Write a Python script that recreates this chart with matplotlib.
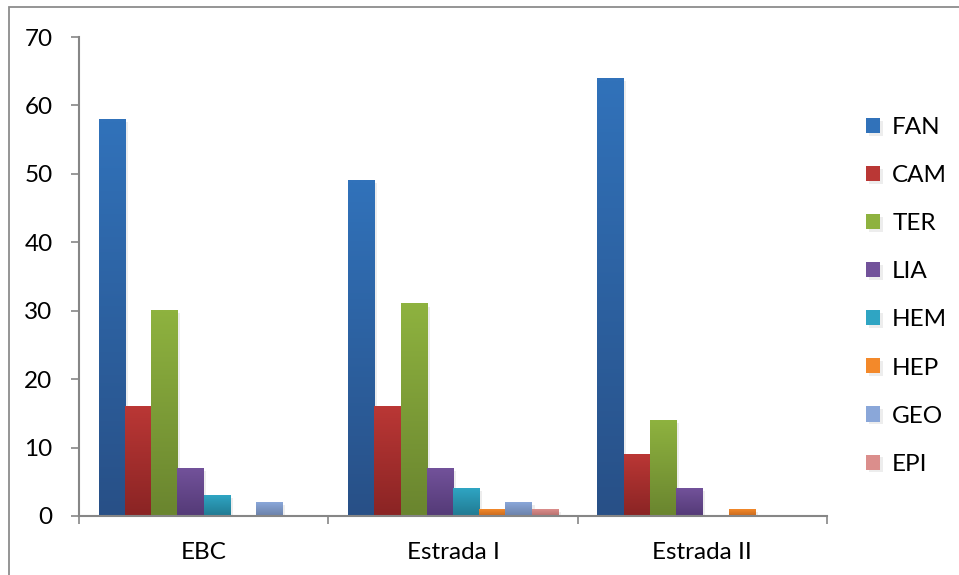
import numpy as np
import matplotlib
matplotlib.use("Agg")
import matplotlib.pyplot as plt
from matplotlib.patches import Rectangle
from matplotlib.colors import to_rgb
import matplotlib.patheffects as pe

plt.rcParams['font.family'] = ['Lato', 'DejaVu Sans']

categories = ["EBC", "Estrada I", "Estrada II"]
series = ["FAN", "CAM", "TER", "LIA", "HEM", "HEP", "GEO", "EPI"]
FAN = [58, 49, 64]
CAM = [16, 16, 9]
TER = [30, 31, 14]
LIA = [7, 7, 4]
HEM = [3, 4, 0]
HEP = [0, 1, 1]
GEO = [2, 2, 0]
EPI = [0, 1, 0]
values = [FAN, CAM, TER, LIA, HEM, HEP, GEO, EPI]

# top / bottom colours of each series' vertical gradient
top_colors = ["#3172BA", "#BA3735", "#8EB23F", "#72529A", "#2FA5C3", "#F3892A", "#8AA7D9", "#DB8E8C"]
bot_colors = ["#285087", "#8A2424", "#6A852F", "#543A77", "#217A92", "#C7691E", "#6B81A9", "#B66F6D"]

W, H = 959, 575
fig = plt.figure(figsize=(W / 100, H / 100), dpi=100)
ax = fig.add_axes([79 / W, 59 / H, (827 - 79) / W, (538 - 59) / H])

n = len(series)
gap = 1.5
bw = 1.0 / (n + gap)
x = np.arange(len(categories))

grad = np.linspace(0, 1, 64).reshape(-1, 1)
handles = []
for i, (name, vals) in enumerate(zip(series, values)):
    offs = (i - (n - 1) / 2) * bw
    bars = ax.bar(x + offs, vals, width=bw, color=top_colors[i], label=name,
                  zorder=2, linewidth=0,
                  path_effects=[pe.SimplePatchShadow(offset=(2, -2), shadow_rgbFace="#000000", alpha=0.07),
                                pe.Normal()])
    handles.append(bars)
    t = np.array(to_rgb(top_colors[i]))
    b = np.array(to_rgb(bot_colors[i]))
    img = (t[None, None, :] * (1 - grad[:, :, None]) + b[None, None, :] * grad[:, :, None])
    for p in bars.patches:
        h = p.get_height()
        if h <= 0:
            continue
        x0 = p.get_x()
        ax.imshow(img, extent=(x0, x0 + p.get_width(), 0, h), aspect='auto',
                  origin='upper', zorder=3, interpolation='bilinear')

ax.set_xlim(-0.5, len(categories) - 0.5)
ax.set_ylim(0, 70)
ax.set_yticks(range(0, 71, 10))
ax.set_xticks(x)
ax.set_xticklabels(categories)
ax.set_xticks(np.arange(len(categories) + 1) - 0.5, minor=True)

axis_grey = "#868686"
for s in ["top", "right"]:
    ax.spines[s].set_visible(False)
for s in ["left", "bottom"]:
    ax.spines[s].set_color(axis_grey)
    ax.spines[s].set_linewidth(1.5)
ax.spines["bottom"].set_zorder(4)

ax.tick_params(axis='y', direction='out', length=6, width=1.2, color=axis_grey,
               labelsize=17.5, pad=13, labelcolor="black")
ax.tick_params(axis='x', which='major', length=0, labelsize=17.5, pad=19, labelcolor="black")
ax.tick_params(axis='x', which='minor', direction='out', length=6, width=1.2, color=axis_grey)

leg = fig.legend(handles=handles, labels=series, loc='upper left',
                 bbox_to_anchor=(866 / W, 1 - 117 / H), frameon=False,
                 fontsize=17.5, labelspacing=1.115, handlelength=0.58, handleheight=0.58,
                 handletextpad=0.5, borderaxespad=0, borderpad=0)

# outer chart border
fig.patches.append(Rectangle((9 / W, -0.1), 1.2, 1 - 7 / H + 0.1, transform=fig.transFigure,
                             fill=False, edgecolor="#8C8C8C", linewidth=1.3, zorder=0))

fig.savefig("out.png", dpi=100)
